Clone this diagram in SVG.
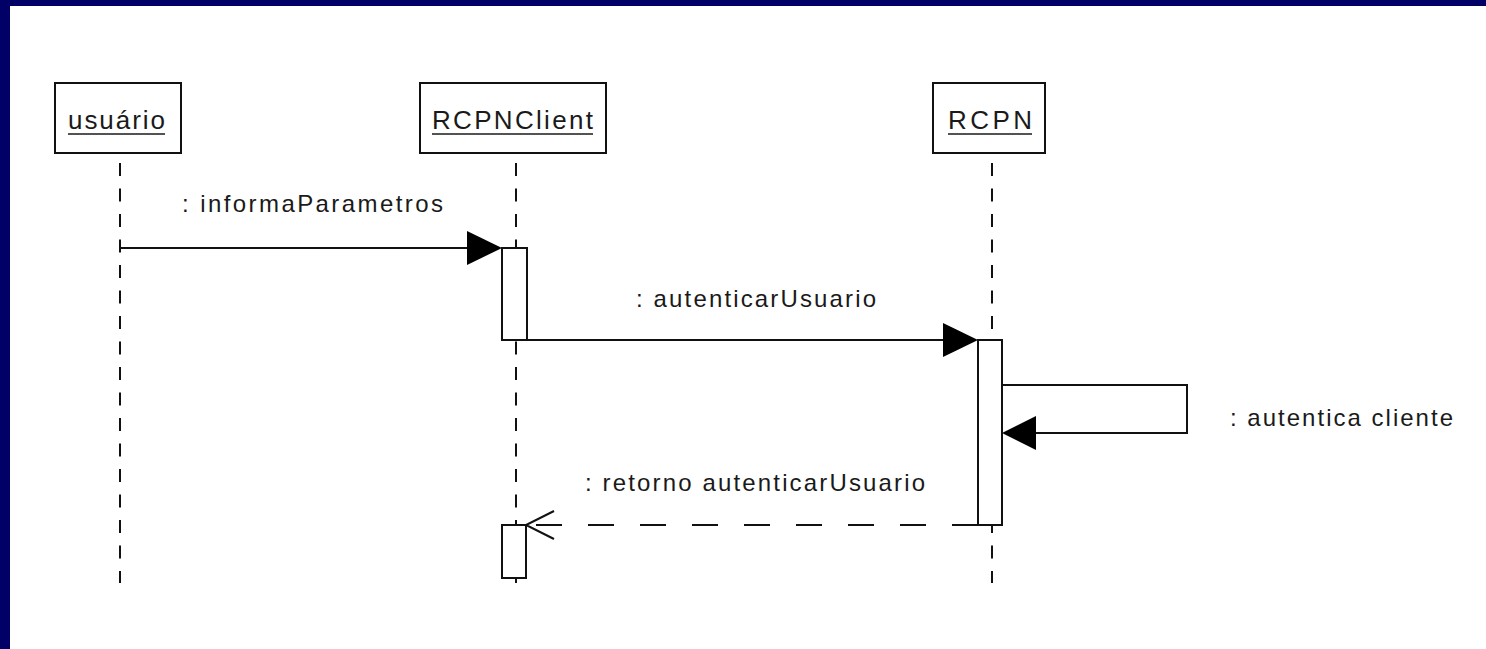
<svg xmlns="http://www.w3.org/2000/svg" width="1486" height="649" viewBox="0 0 1486 649">
<style>
.box{fill:#fff;stroke:#111;stroke-width:2}
.life{stroke:#111;stroke-width:2;stroke-dasharray:13 12.5;fill:none}
.msg{stroke:#111;stroke-width:2;fill:none}
.ret{stroke:#111;stroke-width:2;fill:none;stroke-dasharray:26 26}
.head{fill:#000}
.t{font-family:"Liberation Sans",Arial,sans-serif;font-size:26px;fill:#1a1a1a}
.l{font-family:"Liberation Sans",Arial,sans-serif;font-size:24px;fill:#1a1a1a}
.ul{stroke:#1a1a1a;stroke-width:1.6}
</style>
<rect x="0" y="0" width="1486" height="649" fill="#fff"/>
<rect x="0" y="0" width="1486" height="6" fill="#000066"/>
<rect x="0" y="0" width="10" height="649" fill="#000066"/>

<g id="connectors">
  <line class="life" x1="120" y1="163" x2="120" y2="583"/>
  <line class="life" x1="516" y1="163" x2="516" y2="583"/>
  <line class="life" x1="992" y1="163" x2="992" y2="583"/>
  <line class="msg" x1="120" y1="248" x2="470" y2="248"/>
  <polygon class="head" points="502,248 467,231 467,265"/>
  <line class="msg" x1="527" y1="340" x2="945" y2="340"/>
  <polygon class="head" points="978,340 943,323 943,357"/>
  <polyline class="msg" points="1002,385 1187,385 1187,433 1034,433"/>
  <polygon class="head" points="1002,433 1036,416 1036,450"/>
  <line class="ret" x1="978" y1="525" x2="527" y2="525"/>
  <polyline class="msg" points="554,511 526,525 554,539"/>
</g>

<g id="usuario">
  <rect class="box" x="55" y="83" width="126" height="70"/>
  <text class="t" x="68" y="129" textLength="97" lengthAdjust="spacing">usuário</text>
  <line class="ul" x1="68" y1="134" x2="165" y2="134"/>
</g>
<g id="rcpnclient">
  <rect class="box" x="420" y="83" width="186" height="70"/>
  <text class="t" x="432" y="129" textLength="161" lengthAdjust="spacing">RCPNClient</text>
  <line class="ul" x1="432" y1="134" x2="593" y2="134"/>
</g>
<g id="rcpn">
  <rect class="box" x="933" y="83" width="112" height="70"/>
  <text class="t" x="948" y="129" textLength="84" lengthAdjust="spacing">RCPN</text>
  <line class="ul" x1="948" y1="134" x2="1032" y2="134"/>
</g>
<g id="act-client-1">
  <rect class="box" x="502" y="248" width="25" height="92"/>
</g>
<g id="act-rcpn">
  <rect class="box" x="978" y="340" width="24" height="185"/>
</g>
<g id="act-client-2">
  <rect class="box" x="502" y="525" width="24" height="53"/>
</g>

<g id="labels">
  <text class="l" x="182" y="212" textLength="261" lengthAdjust="spacing">: informaParametros</text>
  <text class="l" x="636" y="307" textLength="240" lengthAdjust="spacing">: autenticarUsuario</text>
  <text class="l" x="1230" y="426" textLength="223" lengthAdjust="spacing">: autentica cliente</text>
  <text class="l" x="585" y="491" textLength="340" lengthAdjust="spacing">: retorno autenticarUsuario</text>
</g>
</svg>
